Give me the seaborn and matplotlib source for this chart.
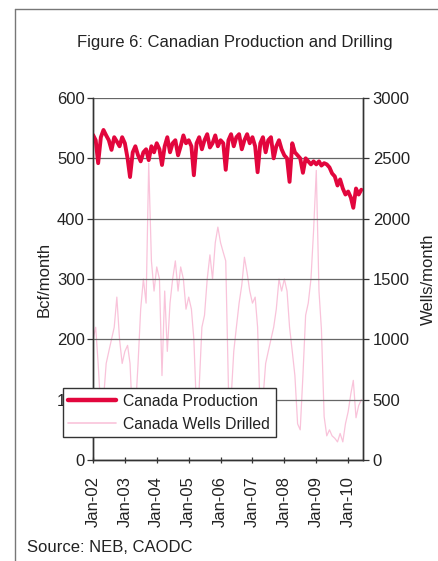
import matplotlib
matplotlib.use("Agg")
import matplotlib.pyplot as plt
import matplotlib.dates as mdates
from matplotlib.lines import Line2D
import numpy as np
import pandas as pd
import seaborn as sns

# ---- data (monthly, Jan-2002 .. Jun-2010) ----
start_month = "2002-01-01"
n_months = 102

production_bcf = [
    539, 530, 492, 535, 547, 538, 530, 514, 535, 528, 520, 535,   # 2002
    525, 500, 469, 510, 520, 505, 495, 510, 515, 497, 520, 510,   # 2003
    525, 515, 489, 520, 535, 510, 525, 530, 505, 520, 538, 525,   # 2004
    530, 520, 472, 525, 535, 515, 530, 540, 518, 525, 538, 520,   # 2005
    530, 525, 481, 530, 540, 520, 535, 540, 515, 530, 540, 525,   # 2006
    535, 520, 477, 525, 535, 510, 530, 535, 500, 520, 530, 515,   # 2007
    505, 500, 461, 525, 510, 505, 500, 476, 500, 495, 490, 495,   # 2008
    490, 495, 488, 492, 490, 485, 475, 470, 455, 465, 450, 440,   # 2009
    445, 435, 418, 450, 440, 448,                                 # 2010
]

wells_drilled = [
    1000, 1100, 800, 400, 500, 800, 900, 1000, 1100, 1350, 1000, 800,     # 2002
    900, 950, 800, 300, 400, 800, 1250, 1500, 1300, 2460, 1650, 1400,     # 2003
    1600, 1500, 700, 1400, 900, 1300, 1500, 1650, 1400, 1600, 1500, 1250, # 2004
    1350, 1250, 1000, 400, 600, 1100, 1200, 1500, 1700, 1500, 1800, 1930, # 2005
    1800, 1720, 1650, 600, 500, 900, 1100, 1300, 1450, 1680, 1550, 1400,  # 2006
    1300, 1350, 1100, 350, 500, 800, 900, 1000, 1100, 1250, 1500, 1400,   # 2007
    1500, 1400, 1100, 900, 700, 300, 250, 700, 1200, 1300, 1500, 1900,    # 2008
    2400, 1400, 1080, 360, 200, 250, 200, 180, 150, 220, 150, 300,        # 2009
    400, 550, 660, 350, 450, 500,                                         # 2010
]

left_ticks = [0, 100, 200, 300, 400, 500, 600]
right_ticks = [0, 500, 1000, 1500, 2000, 2500, 3000]
title_text = "Figure 6: Canadian Production and Drilling"
source_text = "Source: NEB, CAODC"
label_prod = "Canada Production"
label_wells = "Canada Wells Drilled"

dates = pd.date_range(start_month, periods=n_months, freq="MS")
df = pd.DataFrame({"date": dates, "prod": production_bcf, "wells": wells_drilled})

# ---- style ----
sns.set_style("white")
plt.rcParams["font.family"] = ["Liberation Sans", "DejaVu Sans"]

RED = "#e2063d"
PINK = "#f9c3da"
TXT = "#222222"

fig = plt.figure(figsize=(4.38, 5.61), dpi=100)
ax = fig.add_axes([93 / 438, 1 - 460 / 561, (363 - 93) / 438, (460 - 98) / 561])
ax2 = ax.twinx()

sns.lineplot(data=df, x="date", y="wells", ax=ax2, color=PINK, lw=0.9)
sns.lineplot(data=df, x="date", y="prod", ax=ax, color=RED, lw=2.8)

ax.set_zorder(ax2.get_zorder() + 1)
ax.patch.set_visible(False)

ax.set_ylim(0, 600)
ax.set_yticks(left_ticks)
ax2.set_ylim(0, 3000)
ax2.set_yticks(right_ticks)
ax.set_xlim(pd.Timestamp("2002-01-01"), pd.Timestamp("2010-06-20"))

ax.xaxis.set_major_locator(mdates.YearLocator(1, month=1, day=1))
ax.xaxis.set_major_formatter(mdates.DateFormatter("%b-%y"))

ax.yaxis.grid(True, color="#666666", lw=0.9)
ax.xaxis.grid(False)
ax2.grid(False)

for a in (ax, ax2):
    a.spines["top"].set_visible(False)
    for s in ("left", "right", "bottom"):
        a.spines[s].set_color("#333333")
        a.spines[s].set_linewidth(1.0)
    a.set_xlabel("")

ax.set_ylabel("Bcf/month", fontsize=12, color=TXT, labelpad=4)
ax2.set_ylabel("Wells/month", fontsize=12, color=TXT, labelpad=8)

ax.tick_params(axis="y", which="both", direction="out", length=4, width=0.9,
               colors="#333333", labelcolor=TXT, labelsize=12, pad=2, left=True)
ax2.tick_params(axis="y", which="both", direction="out", length=4, width=0.9,
                colors="#333333", labelcolor=TXT, labelsize=12, pad=3, right=True)
ax.tick_params(axis="x", direction="inout", length=5, width=0.9, colors="#333333",
               labelcolor=TXT, labelsize=12, rotation=90, pad=9, bottom=True)

# legend (extends beyond left spine as in reference)
handles = [Line2D([], [], color=RED, lw=3.2), Line2D([], [], color=PINK, lw=1.2)]
leg = fig.legend(handles, [label_prod, label_wells], loc="lower left",
                 bbox_to_anchor=(63 / 438, 1 - 437 / 561), bbox_transform=fig.transFigure,
                 fontsize=11.3, frameon=True, fancybox=False, framealpha=1,
                 edgecolor="#333333", handlelength=3.0, handletextpad=0.5,
                 borderpad=0.35, labelspacing=0.5, borderaxespad=0)
leg.get_frame().set_linewidth(1.0)
for t in leg.get_texts():
    t.set_color(TXT)

fig.text(235 / 438, 1 - 42 / 561, title_text, ha="center", va="center",
         fontsize=12, color=TXT)
fig.text(27 / 438, 1 - 548 / 561, source_text, ha="left", va="center",
         fontsize=12, color=TXT)

# outer page border (top and left)
fig.add_artist(Line2D([15 / 438, 15 / 438], [0, 1 - 9 / 561], transform=fig.transFigure,
                      color="#777777", lw=1.0))
fig.add_artist(Line2D([15 / 438, 1], [1 - 9 / 561, 1 - 9 / 561], transform=fig.transFigure,
                      color="#777777", lw=1.0))

fig.savefig("out.png", dpi=100, facecolor="white")
